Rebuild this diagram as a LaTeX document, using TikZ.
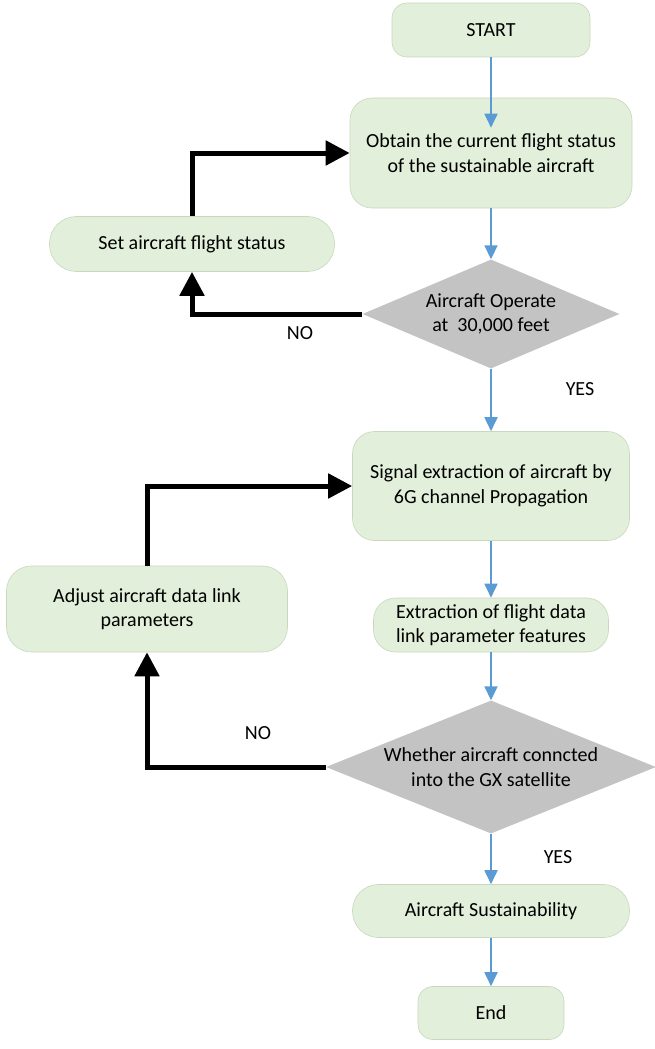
\documentclass[tikz,border=0pt]{standalone}
\usepackage{fontspec}
\setmainfont{Carlito}
\usetikzlibrary{shapes.geometric,arrows.meta}
\definecolor{boxfill}{HTML}{E2EFDA}
\definecolor{boxdraw}{HTML}{C8D8BD}
\definecolor{decfill}{HTML}{C3C3C3}
\definecolor{flowblue}{HTML}{5B9BD5}
\begin{document}
\begin{tikzpicture}[x=1pt,y=-1pt, font=\fontsize{20}{24.5}\selectfont,
  proc/.style={draw=boxdraw, line width=0.6pt, fill=boxfill, align=center, inner sep=0pt},
  dec/.style={diamond, fill=decfill, align=center, inner sep=-14pt},
  flow/.style={draw=flowblue, line width=1.8pt, -{Triangle[length=14pt,width=13pt]}},
  back/.style={draw=black, line width=5pt, -{Triangle[length=24pt,width=24pt]}},
  lbl/.style={inner sep=0pt}]
\useasboundingbox (0,0) rectangle (655,1049);
\node[proc, rounded corners=15pt, minimum width=198pt, minimum height=54pt] (start) at (491,30) {START};
\node[proc, rounded corners=22pt, minimum width=282pt, minimum height=110pt] (obtain) at (491,153) {Obtain the current flight status\\of the sustainable aircraft};
\node[proc, rounded corners=27pt, minimum width=285pt, minimum height=55pt] (set) at (192,244) {Set aircraft flight status};
\node[dec, aspect=2.36, minimum width=257pt, minimum height=109pt] (dec1) at (491,314) {Aircraft Operate\\at\ \ 30,000 feet};
\node[proc, rounded corners=22pt, minimum width=277pt, minimum height=109pt] (signal) at (491,486) {Signal extraction of aircraft by\\6G channel Propagation};
\node[proc, rounded corners=25pt, minimum width=281pt, minimum height=86pt] (adjust) at (147,609) {Adjust aircraft data link\\parameters};
\node[proc, rounded corners=22pt, minimum width=235pt, minimum height=54pt] (extract) at (491,625) {Extraction of flight data\\link parameter features};
\node[dec, aspect=2.48, minimum width=330pt, minimum height=133pt] (dec2) at (491,767) {Whether aircraft conncted\\into the GX satellite};
\node[proc, rounded corners=26pt, minimum width=277pt, minimum height=53pt] (sust) at (491,911) {Aircraft Sustainability};
\node[proc, rounded corners=15pt, minimum width=146pt, minimum height=53pt] (end) at (491,1013) {End};

\draw[flow] (start.south) -- ([yshift=-30pt]obtain.north);
\draw[flow] (obtain.south) -- (dec1.north);
\draw[flow] (dec1.south) -- (signal.north);
\draw[flow] (signal.south) -- (extract.north);
\draw[flow] (extract.south) -- (dec2.north);
\draw[flow] (dec2.south) -- (sust.north);
\draw[flow] (sust.south) -- (end.north);

\draw[back] (set.north) |- (obtain.west);
\draw[back] (dec1.west) -| (set.south);
\draw[back] (adjust.north) |- (signal.west);
\draw[back] (dec2.west) -| (adjust.south);

\node[lbl] (no1) at (300,333) {NO};
\node[lbl] (yes1) at (580,389) {YES};
\node[lbl] (no2) at (258,733) {NO};
\node[lbl] (yes2) at (558,857) {YES};
\end{tikzpicture}
\end{document}
